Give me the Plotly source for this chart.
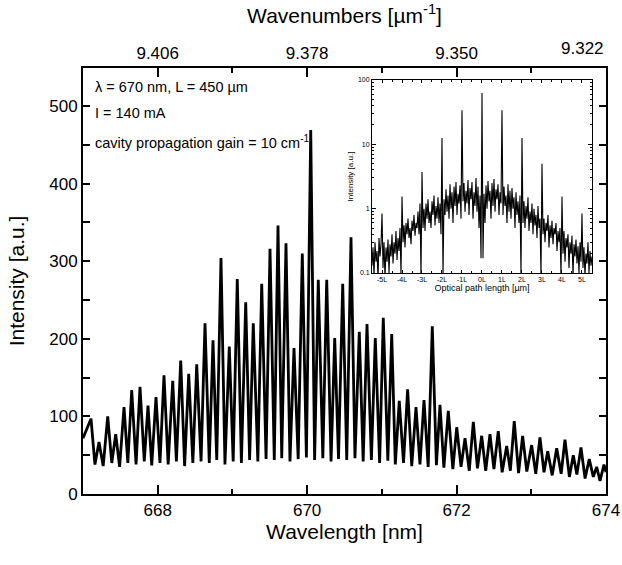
import plotly.graph_objects as go

# ---------------- main spectrum: peaks and valleys ----------------
peak_nm = [667.107, 667.214, 667.331, 667.438, 667.549, 667.652, 667.763, 667.870, 667.977,
           668.084, 668.201, 668.308, 668.415, 668.522, 668.633, 668.740, 668.847, 668.958,
           669.065, 669.178, 669.279, 669.392, 669.503, 669.610, 669.717, 669.824, 669.935,
           670.048, 670.149, 670.262, 670.369, 670.476, 670.587, 670.698, 670.801, 670.912,
           671.019, 671.132, 671.233, 671.345, 671.457, 671.564, 671.675, 671.778, 671.889,
           672.002, 672.113, 672.224, 672.336, 672.447, 672.558, 672.671, 672.772, 672.884,
           673.005, 673.116, 673.220, 673.340, 673.451, 673.562, 673.665, 673.776, 673.875,
           673.973]
peak_int = [97, 67, 100, 77, 112, 134, 138, 114, 125,
            153, 146, 172, 155, 167, 220, 198, 304, 190,
            277, 247, 220, 271, 316, 346, 323, 188, 310,
            469, 276, 276, 201, 271, 331, 209, 219, 201,
            227, 206, 120, 135, 112, 121, 216, 115, 107,
            86, 72, 93, 75, 77, 81, 62, 94, 75,
            63, 73, 55, 59, 70, 50, 60, 45, 35,
            38]
valley_nm = [667.0, 667.16, 667.27, 667.385, 667.49, 667.60, 667.71, 667.82, 667.92,
             668.03, 668.14, 668.25, 668.36, 668.47, 668.58, 668.69, 668.79, 668.90,
             669.01, 669.12, 669.23, 669.34, 669.45, 669.56, 669.66, 669.77, 669.88,
             669.99, 670.10, 670.21, 670.32, 670.42, 670.53, 670.64, 670.75, 670.86,
             670.97, 671.08, 671.18, 671.29, 671.40, 671.51, 671.62, 671.73, 671.83,
             671.95, 672.06, 672.17, 672.28, 672.39, 672.50, 672.61, 672.72, 672.83,
             672.94, 673.06, 673.17, 673.28, 673.40, 673.51, 673.61, 673.72, 673.83,
             673.92, 674.0]
valley_int = [72, 38, 36, 40, 35, 40, 38, 42, 37,
              40, 38, 42, 36, 40, 42, 40, 44, 38,
              42, 40, 44, 42, 45, 44, 46, 42, 45,
              47, 44, 46, 42, 45, 44, 46, 42, 44,
              40, 43, 38, 40, 36, 38, 35, 37, 34,
              32, 35, 30, 33, 30, 32, 28, 30, 27,
              29, 26, 28, 24, 26, 22, 25, 20, 22,
              17, 28]
assert len(peak_nm) == len(peak_int) and len(valley_nm) == len(valley_int)

pts = sorted(zip(peak_nm + valley_nm, peak_int + valley_int))
wavelength = [p[0] for p in pts]
intensity = [p[1] for p in pts]

# axis tick labels
bottom_tick_nm = [668, 670, 672, 674]
top_tick_nm = [668, 670, 672, 674]
top_tick_text = ["9.406", "9.378", "9.350", ""]   # last label placed right-aligned below
last_top_label = "9.322"
y_ticks = [0, 100, 200, 300, 400, 500]

# ---------------- inset: optical path length spectrum (log scale) ----------------
inset_x = [round(-5.5 + 0.05 * i, 2) for i in range(221)]
inset_y = [
    # -5.5 .. -5.0
    0.13, 0.25, 0.09, 0.30, 0.15, 0.22, 0.08, 0.35, 0.18, 0.28, 0.84,
    # -4.95 .. -4.0
    0.12, 0.30, 0.08, 0.25, 0.15, 0.33, 0.10, 0.28, 0.18, 0.40,
    0.14, 0.30, 0.20, 0.45, 0.16, 0.35, 0.22, 0.50, 0.09, 1.55,
    # -3.95 .. -3.0
    0.30, 0.55, 0.25, 0.60, 0.40, 0.70, 0.35, 0.50, 0.28, 0.65,
    0.45, 0.80, 0.38, 0.60, 0.50, 0.90, 0.40, 1.20, 0.09, 3.7,
    # -2.95 .. -2.0
    0.50, 1.00, 0.45, 1.20, 0.70, 1.40, 0.60, 0.90, 0.50, 1.30,
    0.80, 1.60, 0.55, 1.10, 0.70, 1.50, 0.60, 1.20, 0.40, 12.5,
    # -1.95 .. -1.0
    0.09, 1.40, 0.80, 2.00, 0.90, 1.60, 0.70, 2.40, 1.00, 1.80,
    0.60, 2.20, 1.10, 2.60, 0.80, 1.70, 1.20, 2.30, 0.70, 34,
    # -0.95 .. 0.0
    1.30, 2.50, 0.90, 1.90, 1.20, 2.80, 0.80, 2.10, 1.40, 2.60,
    0.70, 1.80, 1.10, 3.00, 0.90, 2.20, 0.50, 1.60, 0.17, 63,
    # 0.05 .. 1.0
    0.17, 1.70, 0.60, 2.30, 1.00, 2.70, 1.30, 1.90, 0.70, 2.50,
    1.10, 2.90, 0.90, 2.00, 1.40, 2.40, 0.80, 1.80, 1.20, 34,
    # 1.05 .. 2.0
    0.80, 2.20, 1.10, 1.60, 0.60, 2.40, 0.90, 1.90, 0.70, 2.10,
    1.00, 1.50, 0.50, 1.80, 0.80, 1.30, 0.60, 1.60, 0.09, 12.5,
    # 2.05 .. 3.0
    0.60, 1.30, 0.50, 1.10, 0.70, 1.50, 0.45, 0.90, 0.60, 1.20,
    0.40, 1.00, 0.55, 0.80, 0.35, 1.10, 0.50, 0.70, 0.09, 5.0,
    # 3.05 .. 4.0
    0.40, 0.70, 0.30, 0.60, 0.45, 0.80, 0.25, 0.55, 0.35, 0.65,
    0.28, 0.50, 0.40, 0.60, 0.22, 0.45, 0.30, 0.50, 0.09, 1.55,
    # 4.05 .. 5.0
    0.20, 0.45, 0.15, 0.35, 0.25, 0.40, 0.12, 0.30, 0.20, 0.38,
    0.09, 0.28, 0.18, 0.33, 0.14, 0.26, 0.10, 0.30, 0.15, 0.84,
    # 5.05 .. 5.5
    0.12, 0.25, 0.09, 0.20, 0.14, 0.30, 0.10, 0.22, 0.13, 0.18,
]
assert len(inset_x) == len(inset_y)
inset_tick_vals = [-5, -4, -3, -2, -1, 0, 1, 2, 3, 4, 5]
inset_tick_text = ["-5L", "-4L", "-3L", "-2L", "-1L", "0L", "1L", "2L", "3L", "4L", "5L"]

FONT = "Liberation Sans, Arial, sans-serif"

fig = go.Figure()
fig.add_trace(go.Scatter(x=wavelength, y=intensity, mode="lines",
                         line=dict(color="black", width=2.8), xaxis="x", yaxis="y",
                         hoverinfo="skip"))
fig.add_trace(go.Scatter(x=[667, 674], y=[None, None], mode="lines", xaxis="x2", yaxis="y",
                         hoverinfo="skip"))
fig.add_trace(go.Scatter(x=inset_x, y=inset_y, mode="lines",
                         line=dict(color="black", width=1.1), xaxis="x3", yaxis="y3",
                         hoverinfo="skip"))

axis_common = dict(showgrid=False, zeroline=False, linecolor="black", color="black",
                   automargin=False)

fig.update_layout(
    width=622, height=565,
    margin=dict(l=83, r=16, t=68, b=71),
    paper_bgcolor="white", plot_bgcolor="white",
    showlegend=False,
    font=dict(family=FONT, color="black"),
    xaxis=dict(**axis_common, domain=[0, 1], range=[667, 674], showline=True, linewidth=2,
               tickvals=bottom_tick_nm, ticks="inside", ticklen=9, tickwidth=1.5,
               minor=dict(tickvals=[669, 671, 673], ticks="inside", ticklen=5, tickwidth=1.5),
               tickfont=dict(size=17),
               title=dict(text="Wavelength [nm]", font=dict(size=21), standoff=3)),
    xaxis2=dict(**axis_common, overlaying="x", side="top", anchor="y", range=[667, 674],
                showline=True, linewidth=2,
                tickvals=top_tick_nm, ticktext=top_tick_text, ticks="inside", ticklen=9,
                tickwidth=1.5,
                minor=dict(tickvals=[669, 671, 673], ticks="inside", ticklen=5, tickwidth=1.5),
                tickfont=dict(size=17),
                title=dict(text="Wavenumbers [µm<sup>-1</sup>]", font=dict(size=21), standoff=15)),
    yaxis=dict(**axis_common, domain=[0, 1], range=[0, 549], showline=True, linewidth=2,
               mirror="ticks", tickvals=y_ticks, ticks="inside", ticklen=7, tickwidth=1.5,
               minor=dict(tickvals=[50, 150, 250, 350, 450], ticks="inside", ticklen=7,
                          tickwidth=1.5),
               tickfont=dict(size=17),
               title=dict(text="Intensity [a.u.]", font=dict(size=21), standoff=19)),
    xaxis3=dict(**axis_common, domain=[0.5526, 0.9732], anchor="y3", range=[-5.5, 5.5],
                showline=True, linewidth=1, mirror="ticks",
                tickvals=inset_tick_vals, ticktext=inset_tick_text, ticks="inside",
                ticklen=3, tickwidth=1,
                minor=dict(dtick=0.5, ticks="inside", ticklen=2, tickwidth=1),
                tickfont=dict(size=7),
                title=dict(text="Optical path length [µm]", font=dict(size=9), standoff=2)),
    yaxis3=dict(**axis_common, domain=[0.5188, 0.9718], anchor="x3", type="log",
                range=[-1, 2], showline=True, linewidth=1, mirror="ticks",
                tickvals=[0.1, 1, 10, 100], ticktext=["0.1", "1", "10", "100"],
                ticks="inside", ticklen=4, tickwidth=1,
                minor=dict(tickvals=[0.2, 0.3, 0.4, 0.5, 0.6, 0.7, 0.8, 0.9,
                                     2, 3, 4, 5, 6, 7, 8, 9, 20, 30, 40, 50, 60, 70, 80, 90],
                           ticks="inside", ticklen=2, tickwidth=1),
                tickfont=dict(size=7),
                title=dict(text="Intensity [a.u.]", font=dict(size=8), standoff=3)),
    annotations=[
        dict(text=last_top_label, x=674, xref="x", y=1, yref="paper",
             xanchor="right", yanchor="bottom", yshift=8, showarrow=False,
             font=dict(size=17)),
        dict(text="λ = 670 nm, L = 450 µm", x=0.019, y=0.956, xref="paper", yref="paper",
             xanchor="left", yanchor="middle", showarrow=False, font=dict(size=14.5)),
        dict(text="I = 140 mA", x=0.019, y=0.894, xref="paper", yref="paper",
             xanchor="left", yanchor="middle", showarrow=False, font=dict(size=14.5)),
        dict(text="cavity propagation gain = 10 cm<sup>-1</sup>", x=0.019, y=0.827,
             xref="paper", yref="paper", xanchor="left", yanchor="middle",
             showarrow=False, font=dict(size=14.5)),
    ],
)

fig.write_html("out.html", config={"displayModeBar": False},
               post_script="document.body.style.margin='0';document.body.style.padding='0';")
